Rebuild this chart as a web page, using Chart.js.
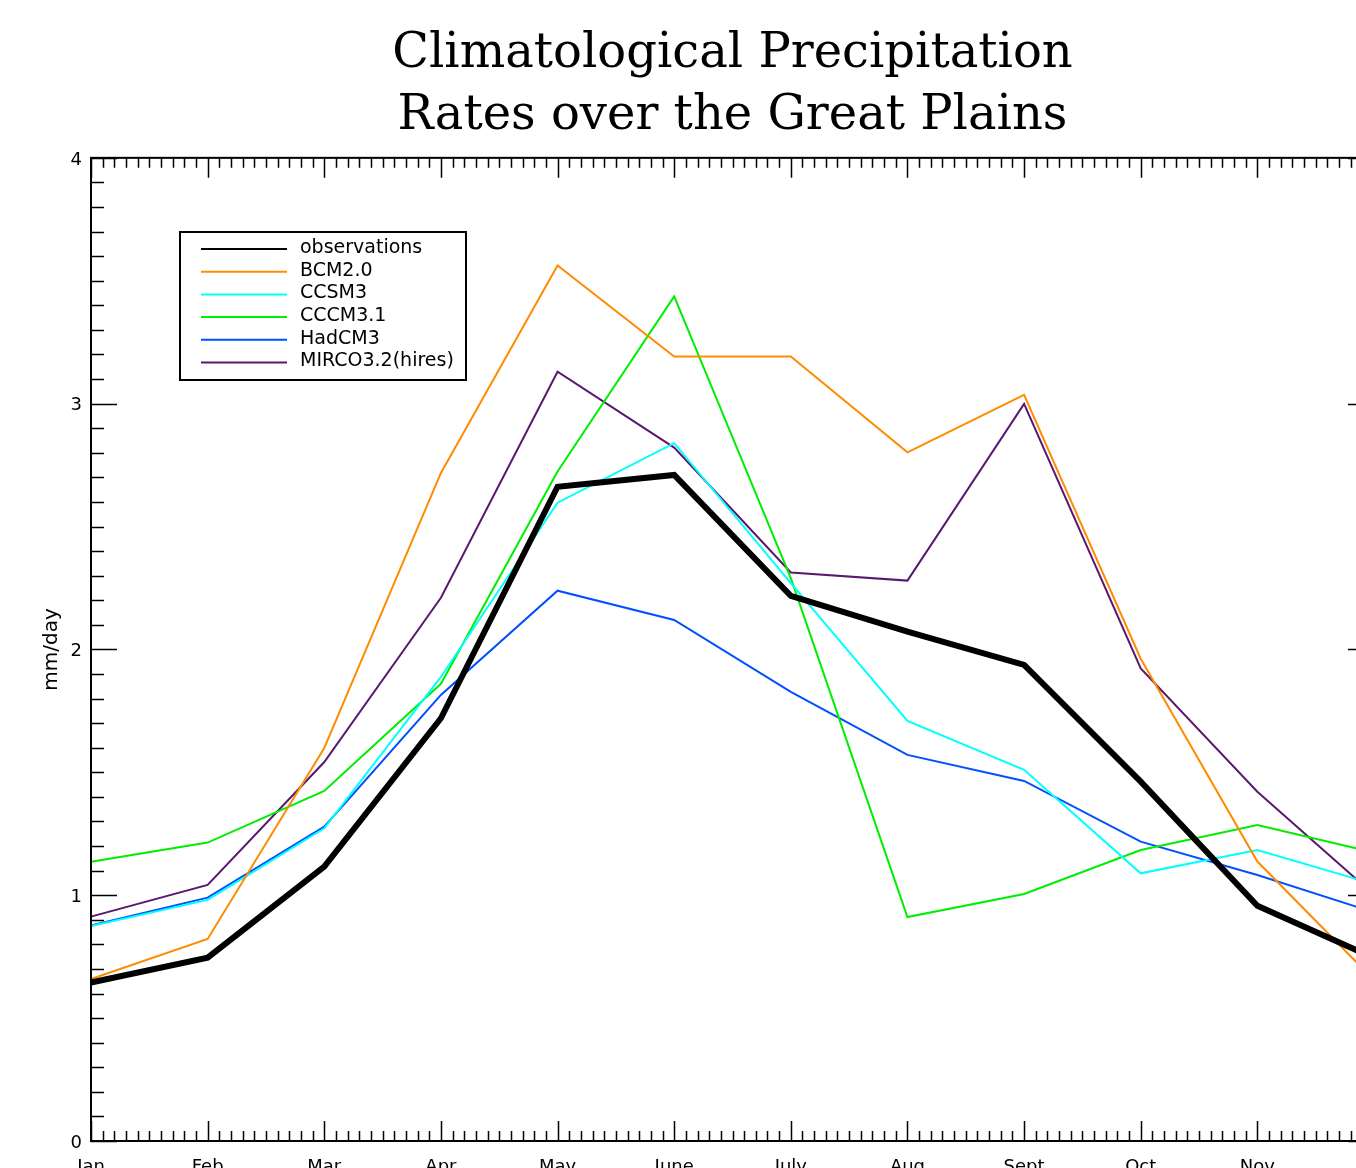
<!DOCTYPE html>
<html>
<head>
<meta charset="utf-8">
<script src="https://cdn.jsdelivr.net/npm/chart.js"></script>
<style>
  html, body { margin: 0; padding: 0; background: #fff; overflow: hidden; }
  #wrap { width: 1400px; height: 1200px; }
</style>
</head>
<body>
<div id="wrap"><canvas id="myChart"></canvas></div>
<script>
// monthly climatology, mm/day
const months = ['Jan', 'Feb', 'Mar', 'Apr', 'May', 'June', 'July', 'Aug', 'Sept', 'Oct', 'Nov', 'Dec'];
const yTicks = [0, 1, 2, 3, 4];

const observations = [0.645, 0.746, 1.116, 1.72, 2.662, 2.71, 2.218, 2.072, 1.937, 1.462, 0.957, 0.745];
const bcm20 = [0.659, 0.822, 1.599, 2.718, 3.562, 3.192, 3.192, 2.802, 3.036, 1.962, 1.137, 0.655];
const ccsm3 = [0.875, 0.981, 1.272, 1.888, 2.597, 2.839, 2.27, 1.709, 1.51, 1.089, 1.184, 1.045];
const cccm31 = [1.136, 1.214, 1.424, 1.86, 2.724, 3.436, 2.29, 0.911, 1.005, 1.184, 1.286, 1.174];
const hadcm3 = [0.877, 0.99, 1.279, 1.815, 2.239, 2.12, 1.827, 1.571, 1.465, 1.218, 1.082, 0.93];
const mirco32 = [0.913, 1.042, 1.542, 2.21, 3.13, 2.821, 2.313, 2.28, 2.999, 1.923, 1.421, 1.002];

const seriesNames = ['observations', 'BCM2.0', 'CCSM3', 'CCCM3.1', 'HadCM3', 'MIRCO3.2(hires)'];
const seriesColors = ['#000000', '#ff8c00', '#00ffff', '#00ee00', '#0050ff', '#5a186e'];
const seriesData = [observations, bcm20, ccsm3, cccm31, hadcm3, mirco32];

const ctx = document.getElementById('myChart');

// box with inward ticks on all four sides, like the old IDL plots
const frameTicks = {
  id: 'frameTicks',
  afterDatasetsDraw(chart) {
    const c = chart.ctx;
    const a = chart.chartArea;
    const x = chart.scales.x;
    const y = chart.scales.y;
    c.save();
    c.strokeStyle = '#000';
    c.lineWidth = 1.5;
    c.beginPath();
    for (let i = 0; i <= (months.length - 1) * 10; i++) {
      const px = Math.round(x.getPixelForValue(i / 10)) + 0.5;
      const len = i % 10 === 0 ? 20 : 10;
      c.moveTo(px, a.bottom); c.lineTo(px, a.bottom - len);
      c.moveTo(px, a.top); c.lineTo(px, a.top + len);
    }
    const top = yTicks[yTicks.length - 1];
    for (let i = 0; i <= top * 10; i++) {
      const py = Math.round(y.getPixelForValue(i / 10)) + 0.5;
      const len = i % 10 === 0 ? 26 : 13;
      c.moveTo(a.left, py); c.lineTo(a.left + len, py);
      c.moveTo(a.right, py); c.lineTo(a.right - len, py);
    }
    c.stroke();
    c.lineWidth = 2;
    c.strokeRect(a.left, a.top, a.right - a.left, a.bottom - a.top);
    c.restore();
  }
};

// legend sits inside the plot, top-left
const boxLegend = {
  id: 'boxLegend',
  afterDraw(chart) {
    const c = chart.ctx;
    const sets = chart.data.datasets;
    const bx = 180, by = 232, bw = 286, bh = 148;
    c.save();
    c.fillStyle = '#fff';
    c.fillRect(bx, by, bw, bh);
    c.strokeStyle = '#000';
    c.lineWidth = 2;
    c.strokeRect(bx, by, bw, bh);
    c.font = '19px "DejaVu Sans"';
    c.textBaseline = 'middle';
    for (let i = 0; i < sets.length; i++) {
      const ly = by + 17 + i * 22.7;
      c.strokeStyle = sets[i].borderColor;
      c.beginPath();
      c.moveTo(201, ly);
      c.lineTo(287, ly);
      c.stroke();
      c.fillStyle = '#000';
      c.fillText(sets[i].label, 300, ly - 1);
    }
    c.restore();
  }
};

const datasets = [];
for (let i = 0; i < seriesNames.length; i++) {
  datasets.push({
    label: seriesNames[i],
    data: seriesData[i],
    borderColor: seriesColors[i],
    backgroundColor: seriesColors[i],
    borderWidth: i === 0 ? 6 : 2,
    borderJoinStyle: 'miter',
    pointRadius: 0,
    tension: 0,
    fill: false
  });
}

const myChart = new Chart(ctx, {
  type: 'line',
  data: {
    labels: months,
    datasets: datasets
  },
  plugins: [frameTicks, boxLegend],
  options: {
    responsive: true,
    maintainAspectRatio: false,
    animation: false,
    devicePixelRatio: 1,
    layout: { padding: { left: 0, right: 26, top: 0, bottom: 0 } },
    plugins: {
      legend: { display: false },
      tooltip: { enabled: false },
      title: {
        display: true,
        fullSize: false,
        text: ['Climatological Precipitation', 'Rates over the Great Plains'],
        color: '#000',
        font: { family: '"DejaVu Serif"', size: 48, weight: 'normal', lineHeight: 1.29 },
        padding: { top: 24, bottom: 10 }
      }
    },
    scales: {
      x: {
        type: 'category',
        offset: false,
        grid: { display: false, drawTicks: false },
        border: { display: false },
        ticks: {
          autoSkip: false,
          maxRotation: 0,
          padding: 16,
          color: '#000',
          font: { family: '"DejaVu Sans"', size: 18 }
        },
        afterFit(scale) {
          scale.height = 59;
          // plot runs out to Dec, past the edge of the page
          scale.paddingLeft = 0;
          scale.paddingRight = 0;
        }
      },
      y: {
        min: yTicks[0],
        max: yTicks[yTicks.length - 1],
        afterBuildTicks(scale) { scale.ticks = yTicks.map(v => ({ value: v })); },
        grid: { display: false, drawTicks: false },
        border: { display: false },
        ticks: {
          padding: 9,
          labelOffset: 2,
          color: '#000',
          font: { family: '"DejaVu Sans"', size: 18 }
        },
        title: {
          display: true,
          text: 'mm/day',
          color: '#000',
          font: { family: '"DejaVu Sans"', size: 20 },
          padding: { top: 40, bottom: 0 }
        },
        afterFit(scale) { scale.width = 91; }
      }
    }
  }
});
</script>
</body>
</html>
